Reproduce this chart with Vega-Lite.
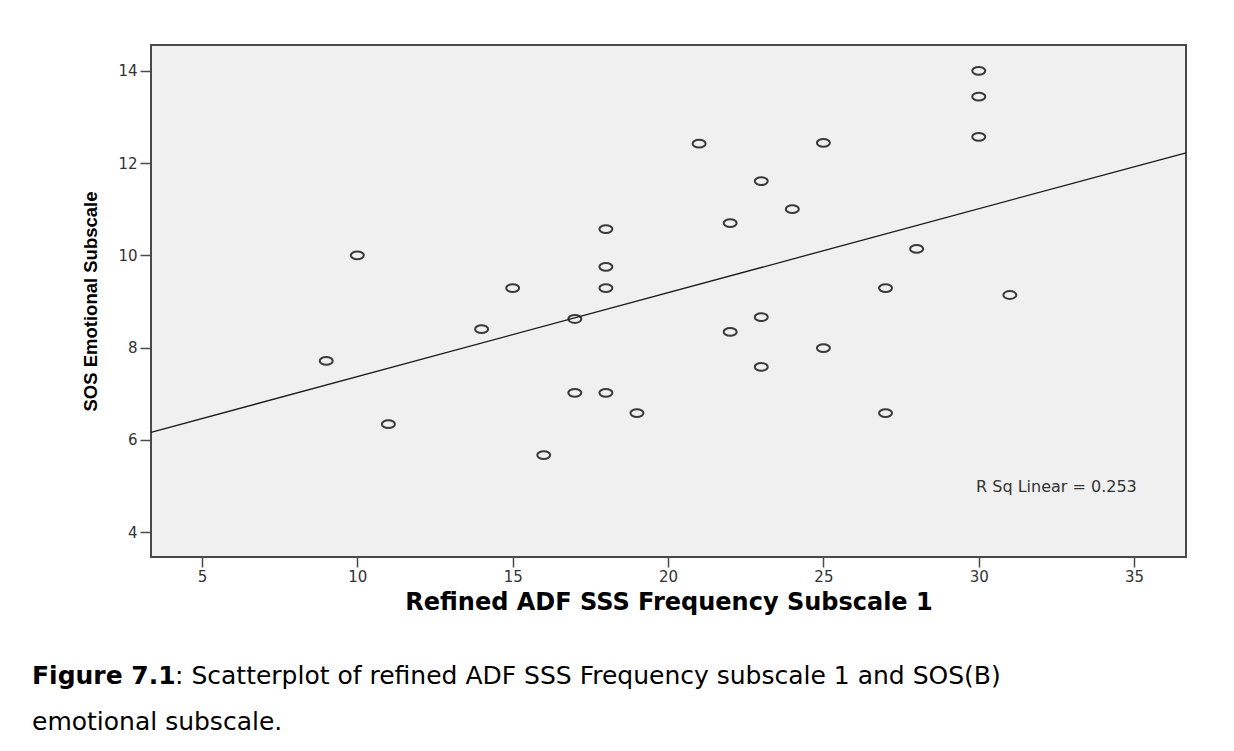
{
  "$schema": "https://vega.github.io/schema/vega-lite/v6.json",
  "autosize": {"type": "none"},
  "width": 1035,
  "height": 512,
  "padding": {"left": 151, "top": 45, "right": 48, "bottom": 194},
  "background": "white",
  "config": {
    "view": {"fill": "#f0f0f0", "stroke": "#4a4a4a", "strokeWidth": 2},
    "font": "DejaVu Sans"
  },
  "title": {
    "text": "Figure 7.1",
    "subtitle": ["\u200b\u00a0\u00a0\u00a0\u00a0\u00a0\u00a0\u00a0\u00a0\u00a0\u00a0\u00a0\u00a0\u00a0\u00a0\u00a0\u00a0\u00a0\u00a0: Scatterplot of refined ADF SSS Frequency subscale 1 and SOS(B)", "emotional subscale."],
    "orient": "bottom",
    "anchor": "start",
    "frame": "group",
    "dx": -119,
    "offset": 50,
    "font": "DejaVu Sans",
    "fontSize": 25,
    "fontWeight": "bold",
    "color": "black",
    "subtitleFont": "DejaVu Sans",
    "subtitleFontSize": 25,
    "subtitleFontWeight": "normal",
    "subtitleColor": "black",
    "subtitlePadding": -25,
    "subtitleLineHeight": 46
  },
  "layer": [
    {
      "data": {"name": "pts", "values": [
        {"freq": 9, "emotional": 7.71},
        {"freq": 10, "emotional": 10.0},
        {"freq": 11, "emotional": 6.34},
        {"freq": 14, "emotional": 8.40},
        {"freq": 15, "emotional": 9.29},
        {"freq": 16, "emotional": 5.67},
        {"freq": 17, "emotional": 8.62},
        {"freq": 17, "emotional": 7.02},
        {"freq": 18, "emotional": 10.57},
        {"freq": 18, "emotional": 9.75},
        {"freq": 18, "emotional": 9.29},
        {"freq": 18, "emotional": 7.02},
        {"freq": 19, "emotional": 6.58},
        {"freq": 21, "emotional": 12.42},
        {"freq": 22, "emotional": 10.70},
        {"freq": 22, "emotional": 8.34},
        {"freq": 23, "emotional": 11.61},
        {"freq": 23, "emotional": 8.66},
        {"freq": 23, "emotional": 7.58},
        {"freq": 24, "emotional": 11.00},
        {"freq": 25, "emotional": 12.44},
        {"freq": 25, "emotional": 7.99},
        {"freq": 27, "emotional": 9.29},
        {"freq": 27, "emotional": 6.58},
        {"freq": 28, "emotional": 10.14},
        {"freq": 30, "emotional": 14.00},
        {"freq": 30, "emotional": 13.44},
        {"freq": 30, "emotional": 12.57},
        {"freq": 31, "emotional": 9.14}
      ]},
      "layer": [
        {
          "mark": {
            "type": "point",
            "shape": "M -1 0 A 1 0.6 0 1 1 1 0 A 1 0.6 0 1 1 -1 0 Z",
            "filled": false,
            "stroke": "#3a3a3a",
            "strokeWidth": 2,
            "size": 169,
            "opacity": 1
          },
          "encoding": {
            "x": {
              "field": "freq", "type": "quantitative",
              "scale": {"domain": [3.36, 36.67], "nice": false, "zero": false},
              "axis": {
                "values": [5, 10, 15, 20, 25, 30, 35],
                "domain": false, "grid": false,
                "tickSize": 10, "tickColor": "#4a4a4a", "tickWidth": 1.5,
                "labelPadding": 2, "labelFontSize": 15, "labelColor": "#333333", "labelFont": "DejaVu Sans",
                "title": "Refined ADF SSS Frequency Subscale 1",
                "titleFont": "DejaVu Sans", "titleFontSize": 24, "titleFontWeight": "bold", "titleColor": "black",
                "titlePadding": 6
              }
            },
            "y": {
              "field": "emotional", "type": "quantitative",
              "scale": {"domain": [3.46, 14.56], "nice": false, "zero": false},
              "axis": {
                "values": [4, 6, 8, 10, 12, 14],
                "domain": false, "grid": false,
                "tickSize": 11, "tickColor": "#4a4a4a", "tickWidth": 1.5,
                "labelPadding": 3, "labelFontSize": 15, "labelColor": "#333333", "labelFont": "DejaVu Sans",
                "title": "SOS Emotional Subscale",
                "titleFont": "Liberation Sans", "titleFontSize": 18.5, "titleFontWeight": "bold", "titleColor": "black",
                "titlePadding": 17
              }
            }
          }
        },
        {
          "transform": [{"regression": "emotional", "on": "freq", "extent": [3.36, 36.67]}],
          "mark": {"type": "line", "color": "#1a1a1a", "strokeWidth": 1.3},
          "encoding": {
            "x": {"field": "freq", "type": "quantitative"},
            "y": {"field": "emotional", "type": "quantitative"}
          }
        }
      ]
    },
    {
      "data": {"values": [{"freq": 32.5, "emotional": 4.98, "label": "R Sq Linear = 0.253"}]},
      "mark": {"type": "text", "fontSize": 16, "color": "#333333", "align": "center", "baseline": "middle", "font": "DejaVu Sans"},
      "encoding": {
        "x": {"field": "freq", "type": "quantitative"},
        "y": {"field": "emotional", "type": "quantitative"},
        "text": {"field": "label"}
      }
    }
  ]
}
